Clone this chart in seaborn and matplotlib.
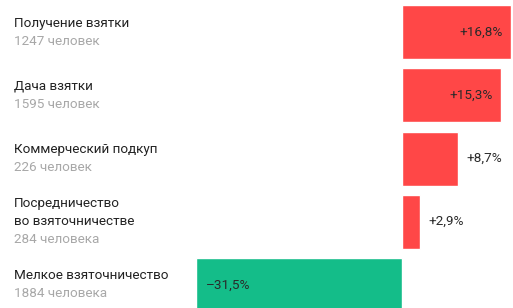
import pandas as pd
import matplotlib.pyplot as plt
import seaborn as sns

categories = ["Получение взятки", "Дача взятки", "Коммерческий подкуп",
              "Посредничество\nво взяточничестве", "Мелкое взяточничество"]
counts = ["1247 человек", "1595 человек", "226 человек", "284 человека", "1884 человека"]
values = [16.8, 15.3, 8.7, 2.9, -31.5]
value_labels = ["+16,8%", "+15,3%", "+8,7%", "+2,9%", "–31,5%"]

df = pd.DataFrame({"cat": categories, "val": values})
df["sign"] = ["up" if v > 0 else "down" for v in values]

sns.set_theme(style="white")
plt.rcParams["font.family"] = ["Roboto", "DejaVu Sans"]

fig = plt.figure(figsize=(5.13, 3.08), dpi=100)
ax = fig.add_axes([0, 0, 1, 1])

sns.barplot(data=df, x="val", y="cat", hue="sign", orient="h",
            palette={"up": "#ff4747", "down": "#14bd89"},
            width=0.855, dodge=False, legend=False, ax=ax, saturation=1)

ax.set_xlim(-61.6, 17.1)
ax.set_ylim(4.365, -0.51)
ax.axis("off")

pitch = 12.9  # points between text lines
for i, (cat, cnt) in enumerate(zip(categories, counts)):
    lines = cat.split("\n")
    k = len(lines) + 1
    for j, line in enumerate(lines + [cnt]):
        off = ((k - 1) / 2 - j) * pitch
        ax.annotate(line, xy=(14 / 513, i), xycoords=("axes fraction", "data"),
                    xytext=(0, off), textcoords="offset points",
                    ha="left", va="center", fontsize=9.7,
                    color="#222222" if j < len(lines) else "#a8a8a8")

for i, (v, lab) in enumerate(zip(values, value_labels)):
    inside = abs(v) > 10
    if v > 0:
        dx, ha = (-6, "right") if inside else (6, "left")
    else:
        dx, ha = (7, "left") if inside else (-6, "right")
    ax.annotate(lab, xy=(v, i), xytext=(dx, 0), textcoords="offset points",
                ha=ha, va="center", fontsize=9.7, color="#2a2a2a")

fig.savefig("out.png", dpi=100)
